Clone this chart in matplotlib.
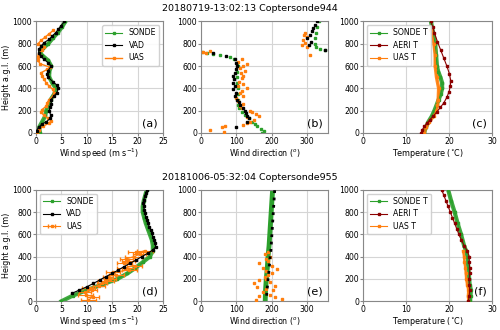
import numpy as np
import matplotlib
matplotlib.use('Agg')
import matplotlib.pyplot as plt

# ---- case 1: 20180719 ----
titles = ['20180719-13:02:13 Coptersonde944', '20181006-05:32:04 Coptersonde955']
panel_labels = ['(a)', '(b)', '(c)', '(d)', '(e)', '(f)']

# wind speed (a)
ws1_sonde_z = [0, 50, 100, 150, 200, 250, 300, 350, 400, 450, 500, 550, 600, 650, 700, 730, 760, 800, 850, 900, 950, 1000]
ws1_sonde = [0.8, 0.6, 1.2, 1.8, 2.0, 2.4, 2.9, 3.6, 3.9, 3.2, 2.6, 2.6, 3.0, 2.4, 1.1, 0.8, 1.4, 2.4, 3.3, 4.3, 5.1, 5.8]
ws1_vad_z = [20, 50, 80, 100, 130, 160, 200, 230, 260, 300, 330, 360, 400, 430, 460, 500, 530, 560, 600, 630, 660, 690, 720, 750, 780, 810, 840, 870, 900, 930, 960, 1000]
ws1_vad = [0.1, 0.5, 1.2, 2.0, 2.8, 2.9, 2.6, 2.8, 3.0, 3.0, 3.5, 4.1, 4.4, 4.1, 3.3, 2.4, 2.2, 2.4, 3.0, 2.4, 1.6, 0.9, 0.5, 0.6, 1.0, 1.6, 2.6, 3.2, 3.9, 4.4, 4.9, 5.6]
ws1_uas_z = [0, 30, 60, 90, 110, 130, 160, 190, 210, 240, 270, 300, 330, 360, 390, 420, 450, 480, 510, 540, 570, 590, 620, 650, 680, 710, 740, 770, 800, 830, 860, 890, 920]
ws1_uas = [0.1, 0.6, 1.4, 2.6, 3.0, 2.4, 1.5, 1.0, 1.2, 2.0, 2.2, 2.6, 3.3, 3.6, 3.3, 2.6, 2.0, 1.6, 1.2, 1.0, 2.2, 2.8, 0.8, 0.4, 0.3, 0.5, 1.2, 1.5, 0.4, 1.0, 1.8, 2.6, 3.4]

# wind direction (b)
wd1_sonde_z = [0, 20, 40, 60, 80, 100, 130, 160, 190, 220, 250, 300, 350, 400, 450, 500, 550, 600, 630, 660, 680, 700, 710, 720, 730, 740, 750, 770, 800, 850, 900, 950, 1000]
wd1_sonde = [172, 178, 170, 160, 152, 145, 135, 125, 115, 108, 104, 104, 106, 105, 103, 101, 103, 104, 101, 94, 82, 55, 35, 18, 4, 352, 338, 326, 322, 324, 326, 330, 334]
wd1_vad_z = [50, 100, 130, 150, 180, 200, 220, 250, 280, 300, 330, 360, 390, 420, 450, 480, 510, 540, 570, 600, 630, 660, 690, 720, 745, 790, 820, 850, 880, 910, 940, 970, 1000]
wd1_vad = [100, 130, 135, 130, 128, 125, 120, 110, 108, 102, 96, 98, 92, 96, 92, 94, 92, 96, 98, 102, 100, 96, 70, 35, 352, 305, 312, 300, 310, 316, 318, 322, 330]
wd1_uas_z = [10, 30, 50, 60, 70, 90, 100, 120, 140, 150, 170, 190, 200, 220, 240, 260, 290, 310, 330, 360, 380, 400, 420, 440, 460, 490, 510, 540, 560, 580, 600, 620, 640, 660, 700, 715, 725, 735, 770, 790, 810, 830, 860, 880, 900]
wd1_uas = [65, 25, 60, 68, 120, 130, 140, 150, 130, 165, 155, 145, 140, 115, 110, 120, 105, 98, 120, 110, 115, 130, 105, 120, 108, 115, 120, 112, 125, 110, 120, 130, 105, 115, 310, 15, 5, 25, 300, 285, 295, 288, 300, 293, 296]

# temperature (c)
t1_sonde_z = [0, 50, 100, 150, 200, 250, 300, 350, 400, 450, 500, 550, 600, 700, 800, 900, 1000]
t1_sonde = [14.2, 14.6, 15.2, 16.0, 16.6, 17.1, 17.6, 18.1, 18.4, 18.4, 18.0, 17.5, 17.2, 17.0, 16.8, 16.3, 15.8]
t1_aeri_z = [0, 30, 60, 90, 120, 150, 190, 230, 270, 320, 370, 420, 470, 530, 600, 670, 740, 820, 900, 950, 1000]
t1_aeri = [13.6, 13.8, 14.3, 14.9, 15.6, 16.3, 17.2, 18.0, 18.8, 19.5, 20.0, 20.3, 20.4, 20.1, 19.5, 18.8, 18.1, 17.3, 16.6, 16.2, 15.8]
t1_uas_z = [0, 50, 100, 150, 200, 250, 300, 400, 500, 600, 700, 800, 900, 920]
t1_uas = [14.2, 14.6, 15.4, 16.4, 17.0, 17.3, 17.5, 17.6, 17.1, 16.8, 16.8, 16.5, 16.0, 15.8]

# ---- case 2: 20181006 ----
# wind speed (d)
ws2_sonde_z = [0, 50, 100, 150, 200, 250, 300, 350, 400, 450, 500, 550, 600, 650, 700, 750, 800, 850, 900, 950, 1000]
ws2_sonde = [5.0, 7.2, 10.0, 13.0, 16.0, 18.0, 19.6, 21.0, 22.4, 23.0, 23.0, 22.8, 22.4, 22.0, 21.6, 21.3, 21.0, 21.0, 21.2, 21.5, 21.8]
ws2_vad_z = [70, 100, 130, 160, 190, 220, 250, 280, 310, 340, 370, 400, 430, 460, 490, 520, 550, 580, 610, 640, 670, 700, 730, 760, 790, 820, 850, 880, 910, 940, 970, 1000]
ws2_vad = [7.0, 8.5, 10.0, 11.3, 12.5, 13.7, 15.0, 16.2, 17.3, 18.5, 19.7, 20.8, 22.0, 23.0, 23.6, 23.4, 23.2, 23.0, 22.8, 22.6, 22.3, 22.0, 21.8, 21.6, 21.4, 21.3, 21.2, 21.1, 21.2, 21.4, 21.6, 21.9]
ws2_uas_z = [10, 40, 60, 80, 100, 120, 140, 160, 180, 200, 220, 240, 260, 280, 300, 320, 340, 360, 380, 400, 420, 440, 450]
ws2_uas = [10.3, 11.2, 9.8, 9.6, 11.0, 10.4, 12.4, 13.0, 13.8, 14.6, 14.2, 15.8, 15.2, 18.4, 17.6, 19.4, 17.4, 18.2, 17.8, 19.2, 20.4, 19.6, 21.4]
ws2_uas_err = [1.5, 1.2, 1.5, 1.2, 1.0, 1.3, 1.2, 1.0, 1.5, 1.2, 1.0, 1.5, 1.4, 1.5, 1.6, 1.4, 1.5, 1.2, 1.3, 1.6, 1.3, 1.4, 1.6]

# wind direction (e)
wd2_sonde_z = [0, 100, 200, 300, 400, 500, 600, 700, 800, 900, 1000]
wd2_sonde = [182, 183, 185, 188, 190, 193, 195, 197, 199, 201, 203]
wd2_vad_z = [50, 100, 150, 200, 250, 300, 350, 400, 450, 500, 550, 600, 650, 700, 750, 800, 850, 900, 950, 1000]
wd2_vad = [186, 187, 189, 190, 192, 193, 195, 196, 198, 199, 200, 201, 202, 203, 204, 205, 206, 207, 208, 209]
wd2_uas_z = [10, 20, 40, 50, 60, 80, 100, 110, 130, 140, 160, 170, 190, 200, 220, 240, 250, 270, 290, 300, 320, 340, 360, 380, 400, 420, 440]
wd2_uas = [155, 230, 210, 165, 195, 175, 205, 185, 160, 210, 150, 195, 165, 185, 180, 190, 200, 185, 215, 175, 200, 165, 190, 185, 195, 180, 190]

# temperature (f)
t2_sonde_z = [0, 50, 100, 150, 200, 300, 400, 450, 500, 600, 700, 800, 900, 1000]
t2_sonde = [24.9, 25.0, 25.1, 24.8, 24.7, 24.5, 24.3, 24.0, 23.5, 22.8, 22.0, 21.3, 20.5, 19.8]
t2_aeri_z = [0, 50, 100, 150, 200, 250, 300, 350, 400, 450, 500, 550, 600, 650, 700, 750, 800, 850, 900, 950, 1000]
t2_aeri = [24.5, 24.7, 24.8, 24.7, 24.7, 24.8, 24.8, 24.7, 24.7, 24.3, 23.5, 22.9, 22.3, 21.8, 21.3, 20.8, 20.3, 19.8, 19.3, 18.8, 18.3]
t2_uas_z = [0, 50, 100, 150, 200, 250, 300, 350, 400, 450]
t2_uas = [24.5, 24.4, 24.5, 24.2, 24.0, 23.9, 23.8, 23.6, 23.5, 23.3]

GREEN = '#2ca02c'
ORANGE = '#ff7f0e'
DARKRED = '#8b0000'

plt.rcParams['font.family'] = 'DejaVu Sans'
fig = plt.figure(figsize=(5, 3.3), dpi=100)

lefts = [0.072, 0.402, 0.726]
widths = [0.254, 0.254, 0.258]
bottoms = [0.597, 0.087]
height = 0.338

axes = []
for r in range(2):
    row = []
    for c in range(3):
        ax = fig.add_axes([lefts[c], bottoms[r], widths[c], height])
        row.append(ax)
    axes.append(row)

LEG = dict(fontsize=5.6, handlelength=2.2, borderpad=0.4, labelspacing=0.45,
           handletextpad=0.8, framealpha=0.9)


def style(ax, xlim, xticks, xlabel, label, ylabel=False):
    ax.set_xlim(*xlim)
    ax.set_ylim(0, 1000)
    ax.set_xticks(xticks)
    ax.set_yticks([0, 200, 400, 600, 800, 1000])
    ax.grid(True, color='#d5d5d5', lw=0.8)
    ax.set_axisbelow(True)
    for s in ax.spines.values():
        s.set_color('#888888')
    ax.tick_params(labelsize=5.6, length=2, pad=0.8, color='#888888')
    ax.set_xlabel(xlabel, fontsize=5.8, labelpad=0.5)
    if ylabel:
        ax.set_ylabel('Height a.g.l. (m)', fontsize=5.8, labelpad=1)
    ax.text(0.96, 0.04, label, transform=ax.transAxes, ha='right', va='bottom', fontsize=8)


def thick(ax, x, z, color, lw, lab, ms=1.5):
    ax.plot(x, z, color=color, lw=lw, alpha=0.9, zorder=2)
    ax.plot(x, z, color=color, lw=0.8, marker='s', ms=ms, label=lab, zorder=3)


ws_label = 'Wind speed (m s$^{-1}$)'
wd_label = 'Wind direction ($^o$)'
t_label = "Temperature ($^{\\circ}$C)"

# (a)
ax = axes[0][0]
thick(ax, ws1_sonde, ws1_sonde_z, GREEN, 3, 'SONDE')
ax.plot(ws1_vad, ws1_vad_z, color='k', lw=0.8, marker='s', ms=1.5, label='VAD', zorder=4)
ax.plot(ws1_uas, ws1_uas_z, color=ORANGE, lw=1, marker='s', ms=2, label='UAS', zorder=3)
style(ax, (0, 25), [0, 5, 10, 15, 20, 25], ws_label, '(a)', ylabel=True)
ax.legend(loc='upper right', **LEG)

# (b)
ax = axes[0][1]
ax.plot(wd1_sonde, wd1_sonde_z, ls='none', marker='s', ms=2, color=GREEN, zorder=2)
ax.plot(wd1_vad, wd1_vad_z, ls='none', marker='s', ms=2, color='k', zorder=4)
ax.plot(wd1_uas, wd1_uas_z, ls='none', marker='s', ms=2, color=ORANGE, zorder=3)
style(ax, (0, 360), [0, 100, 200, 300], wd_label, '(b)')

# (c)
ax = axes[0][2]
thick(ax, t1_sonde, t1_sonde_z, GREEN, 3, 'SONDE T')
ax.plot(t1_aeri, t1_aeri_z, color=DARKRED, lw=0.8, marker='s', ms=1.5, label='AERI T', zorder=4)
thick(ax, t1_uas, t1_uas_z, ORANGE, 2.5, 'UAS T')
style(ax, (0, 30), [0, 10, 20, 30], t_label, '(c)')
ax.legend(loc='upper left', **LEG)

# (d)
ax = axes[1][0]
thick(ax, ws2_sonde, ws2_sonde_z, GREEN, 3, 'SONDE')
ax.plot(ws2_vad, ws2_vad_z, color='k', lw=0.8, marker='s', ms=1.5, label='VAD', zorder=4)
ax.errorbar(ws2_uas, ws2_uas_z, xerr=ws2_uas_err, color=ORANGE, lw=0.8, marker='s', ms=2,
            elinewidth=0.8, capsize=1.2, label='UAS', zorder=3)
style(ax, (0, 25), [0, 5, 10, 15, 20, 25], ws_label, '(d)', ylabel=True)
ax.legend(loc='upper left', **LEG)

# (e)
ax = axes[1][1]
ax.plot(wd2_sonde, wd2_sonde_z, color=GREEN, lw=3.5, zorder=2)
ax.plot(wd2_vad, wd2_vad_z, ls=':', lw=2, color='k', zorder=4)
ax.plot(wd2_uas, wd2_uas_z, ls='none', marker='s', ms=2, color=ORANGE, zorder=3)
style(ax, (0, 360), [0, 100, 200, 300], wd_label, '(e)')

# (f)
ax = axes[1][2]
thick(ax, t2_sonde, t2_sonde_z, GREEN, 3, 'SONDE T')
ax.plot(t2_aeri, t2_aeri_z, color=DARKRED, lw=0.8, marker='s', ms=1.5, label='AERI T', zorder=4)
thick(ax, t2_uas, t2_uas_z, ORANGE, 1.8, 'UAS T')
style(ax, (0, 30), [0, 10, 20, 30], t_label, '(f)')
ax.legend(loc='upper left', **LEG)

fig.text(0.5, 0.975, titles[0], ha='center', va='center', fontsize=6.8)
fig.text(0.5, 0.462, titles[1], ha='center', va='center', fontsize=6.8)

fig.savefig('out.png', dpi=100)
